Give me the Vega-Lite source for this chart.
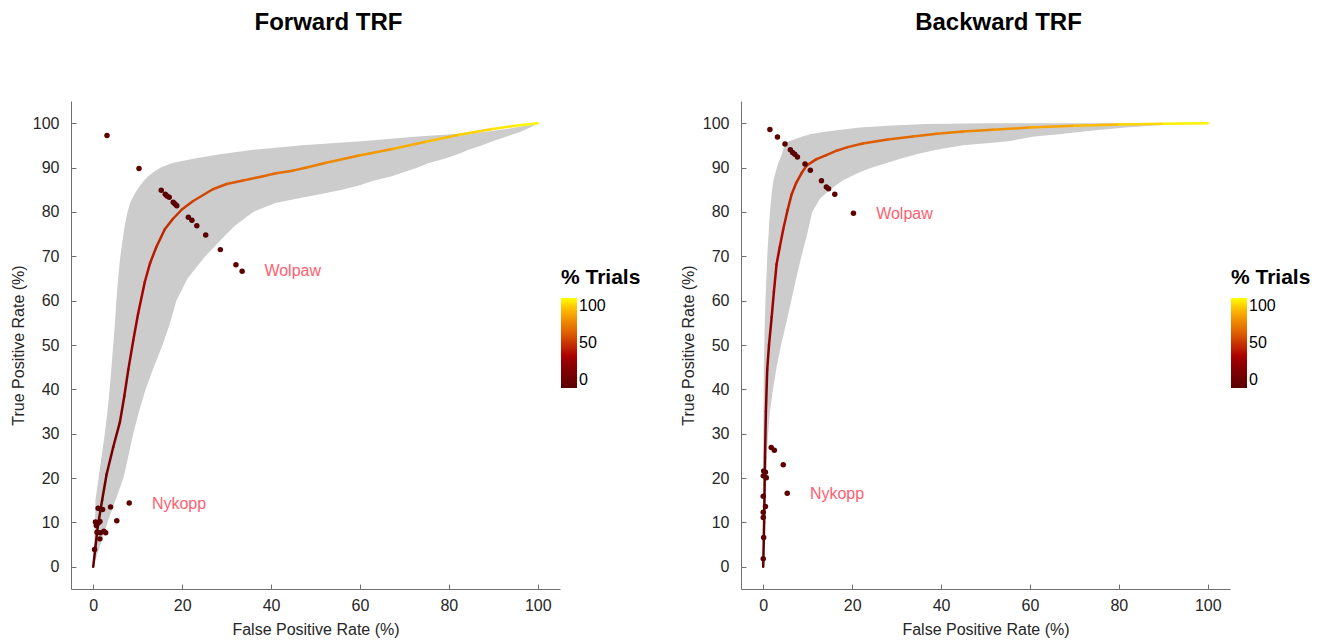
{
  "$schema": "https://vega.github.io/schema/vega-lite/v6.json",
  "padding": {"left": 10, "top": 11, "right": 5, "bottom": 5},
  "background": "white",
  "config": {
    "font": "Liberation Sans",
    "view": {"stroke": null},
    "axis": {
      "grid": false,
      "domainColor": "#707070",
      "tickColor": "#707070",
      "tickSize": -5,
      "labelColor": "#262626",
      "titleColor": "#262626",
      "labelFontSize": 16,
      "titleFontSize": 16,
      "titleFontWeight": "normal",
      "labelFont": "Liberation Sans",
      "titleFont": "Liberation Sans"
    },
    "axisY": {"labelPadding": 17, "titlePadding": 6},
    "axisX": {"labelPadding": 13, "titlePadding": 8},
    "title": {"fontSize": 24, "fontWeight": "bold", "color": "#000000", "offset": 66, "dx": 13, "font": "Liberation Sans"},
    "legend": {
      "orient": "none",
      "legendX": 490,
      "legendY": 166,
      "padding": 0,
      "titleFontSize": 21,
      "titleFontWeight": "bold",
      "titleColor": "#000000",
      "titlePadding": 10,
      "labelFontSize": 16,
      "labelColor": "#000000",
      "labelBaseline": "middle",
      "labelOffset": 6,
      "gradientLength": 90,
      "gradientThickness": 16,
      "gradientStrokeWidth": 0,
      "titleFont": "Liberation Sans",
      "labelFont": "Liberation Sans"
    }
  },
  "datasets": {
    "bandF": [
      {"y": 0, "xl": 0, "xr": 0}, {"y": 5, "xl": 0.2, "xr": 1.6}, {"y": 10, "xl": 0.4, "xr": 3.2},
      {"y": 15, "xl": 0.5, "xr": 5.0}, {"y": 20, "xl": 1.2, "xr": 6.8}, {"y": 25, "xl": 1.9, "xr": 7.9},
      {"y": 30, "xl": 2.6, "xr": 9.0}, {"y": 35, "xl": 3.2, "xr": 10.3}, {"y": 40, "xl": 3.7, "xr": 11.8},
      {"y": 45, "xl": 4.1, "xr": 13.6}, {"y": 50, "xl": 4.5, "xr": 15.6}, {"y": 55, "xl": 4.9, "xr": 17.3},
      {"y": 60, "xl": 5.2, "xr": 18.7}, {"y": 65, "xl": 5.6, "xr": 21.2}, {"y": 70, "xl": 6.1, "xr": 25.2},
      {"y": 75, "xl": 6.8, "xr": 30.0}, {"y": 77, "xl": 7.1, "xr": 32.0}, {"y": 80, "xl": 7.7, "xr": 36.0},
      {"y": 82, "xl": 8.3, "xr": 41}, {"y": 83, "xl": 8.8, "xr": 46}, {"y": 84, "xl": 9.3, "xr": 51},
      {"y": 85, "xl": 9.9, "xr": 56}, {"y": 86, "xl": 10.6, "xr": 60}, {"y": 87, "xl": 11.4, "xr": 63},
      {"y": 88, "xl": 12.3, "xr": 67}, {"y": 89, "xl": 13.6, "xr": 70}, {"y": 90, "xl": 15.2, "xr": 73},
      {"y": 91, "xl": 17.8, "xr": 75.5}, {"y": 92, "xl": 22.5, "xr": 79}, {"y": 93, "xl": 28.5, "xr": 82},
      {"y": 94, "xl": 36, "xr": 84.5}, {"y": 95, "xl": 47, "xr": 87.5}, {"y": 96, "xl": 61, "xr": 90},
      {"y": 97, "xl": 73, "xr": 93}, {"y": 98, "xl": 88, "xr": 96}, {"y": 99, "xl": 95, "xr": 98.3},
      {"y": 100, "xl": 100, "xr": 100}
    ],
    "curveF": [
      {"x": 0, "y": 0, "x2": 0.5, "y2": 4.5, "pct": 1.25},
      {"x": 0.5, "y": 4.5, "x2": 1.0, "y2": 8.9, "pct": 3.7},
      {"x": 1.0, "y": 8.9, "x2": 2.0, "y2": 15, "pct": 6.7},
      {"x": 2.0, "y": 15, "x2": 3.0, "y2": 20.8, "pct": 10.2},
      {"x": 3.0, "y": 20.8, "x2": 4.5, "y2": 27, "pct": 13.8},
      {"x": 4.5, "y": 27, "x2": 6.0, "y2": 32.6, "pct": 17.5},
      {"x": 6.0, "y": 32.6, "x2": 7.0, "y2": 38.5, "pct": 21},
      {"x": 7.0, "y": 38.5, "x2": 7.9, "y2": 44.5, "pct": 24.5},
      {"x": 7.9, "y": 44.5, "x2": 9.0, "y2": 51, "pct": 28.1},
      {"x": 9.0, "y": 51, "x2": 10.1, "y2": 57.1, "pct": 31.8},
      {"x": 10.1, "y": 57.1, "x2": 11.6, "y2": 64.2, "pct": 35.75},
      {"x": 11.6, "y": 64.2, "x2": 12.8, "y2": 68.5, "pct": 39.3},
      {"x": 12.8, "y": 68.5, "x2": 14.2, "y2": 72.1, "pct": 41.9},
      {"x": 14.2, "y": 72.1, "x2": 16.1, "y2": 76.1, "pct": 44.6},
      {"x": 16.1, "y": 76.1, "x2": 17.9, "y2": 78.4, "pct": 47.1},
      {"x": 17.9, "y": 78.4, "x2": 20, "y2": 80.6, "pct": 49.2},
      {"x": 20, "y": 80.6, "x2": 22.4, "y2": 82.4, "pct": 51.35},
      {"x": 22.4, "y": 82.4, "x2": 26.9, "y2": 85.1, "pct": 54.2},
      {"x": 26.9, "y": 85.1, "x2": 30, "y2": 86.3, "pct": 57.1},
      {"x": 30, "y": 86.3, "x2": 33.7, "y2": 87.1, "pct": 59.3},
      {"x": 33.7, "y": 87.1, "x2": 38, "y2": 88, "pct": 61.7},
      {"x": 38, "y": 88, "x2": 41.1, "y2": 88.7, "pct": 64},
      {"x": 41.1, "y": 88.7, "x2": 44.9, "y2": 89.3, "pct": 66},
      {"x": 44.9, "y": 89.3, "x2": 48, "y2": 90, "pct": 68},
      {"x": 48, "y": 90, "x2": 52.4, "y2": 91.1, "pct": 70.4},
      {"x": 52.4, "y": 91.1, "x2": 59.8, "y2": 92.7, "pct": 74},
      {"x": 59.8, "y": 92.7, "x2": 67.3, "y2": 94.2, "pct": 78.5},
      {"x": 67.3, "y": 94.2, "x2": 74.8, "y2": 95.8, "pct": 83},
      {"x": 74.8, "y": 95.8, "x2": 82.3, "y2": 97.4, "pct": 87.6},
      {"x": 82.3, "y": 97.4, "x2": 89.8, "y2": 98.7, "pct": 92},
      {"x": 89.8, "y": 98.7, "x2": 95, "y2": 99.4, "pct": 95.7},
      {"x": 95, "y": 99.4, "x2": 100, "y2": 100, "pct": 98.6}
    ],
    "ptsF": [
      {"x": 3.1, "y": 97.2}, {"x": 10.3, "y": 89.8}, {"x": 15.3, "y": 84.9}, {"x": 16.2, "y": 84.0},
      {"x": 16.6, "y": 83.6}, {"x": 17.1, "y": 83.3}, {"x": 18.0, "y": 82.2}, {"x": 18.4, "y": 81.8},
      {"x": 18.8, "y": 81.4}, {"x": 21.4, "y": 78.8}, {"x": 22.2, "y": 78.1}, {"x": 23.3, "y": 76.9},
      {"x": 25.3, "y": 74.8}, {"x": 28.6, "y": 71.5}, {"x": 32.1, "y": 68.1}, {"x": 33.5, "y": 66.6},
      {"x": 8.1, "y": 14.4}, {"x": 3.9, "y": 13.5}, {"x": 1.1, "y": 13.2}, {"x": 1.5, "y": 13.1},
      {"x": 2.1, "y": 12.9}, {"x": 5.3, "y": 10.4}, {"x": 0.5, "y": 10.1}, {"x": 1.1, "y": 9.9},
      {"x": 1.5, "y": 10.2}, {"x": 0.7, "y": 9.3}, {"x": 0.85, "y": 7.8}, {"x": 1.6, "y": 7.7},
      {"x": 2.4, "y": 8.0}, {"x": 2.8, "y": 7.7}, {"x": 1.5, "y": 6.3}, {"x": 0.3, "y": 3.9}
    ],
    "labF": [
      {"x": 38.5, "y": 66.6, "label": "Wolpaw"},
      {"x": 13.2, "y": 14.2, "label": "Nykopp"}
    ],
    "bandB": [
      {"y": 0, "xl": 0, "xr": 0}, {"y": 5, "xl": 0, "xr": 0.3}, {"y": 10, "xl": 0, "xr": 0.4},
      {"y": 15, "xl": 0, "xr": 0.5}, {"y": 20, "xl": 0, "xr": 0.6}, {"y": 25, "xl": 0, "xr": 0.8},
      {"y": 30, "xl": 0, "xr": 1.1}, {"y": 35, "xl": 0.05, "xr": 1.5}, {"y": 40, "xl": 0.1, "xr": 2.2},
      {"y": 45, "xl": 0.15, "xr": 3.0}, {"y": 50, "xl": 0.25, "xr": 4.0}, {"y": 55, "xl": 0.35, "xr": 5.2},
      {"y": 60, "xl": 0.5, "xr": 6.3}, {"y": 65, "xl": 0.7, "xr": 7.4}, {"y": 70, "xl": 0.9, "xr": 8.6},
      {"y": 75, "xl": 1.2, "xr": 9.9}, {"y": 80, "xl": 1.5, "xr": 11.0}, {"y": 83, "xl": 1.8, "xr": 12.8},
      {"y": 85, "xl": 2.0, "xr": 15.0}, {"y": 87, "xl": 2.3, "xr": 17.8}, {"y": 88, "xl": 2.5, "xr": 19.7},
      {"y": 89, "xl": 2.8, "xr": 21.8}, {"y": 90, "xl": 3.1, "xr": 24.5}, {"y": 91, "xl": 3.4, "xr": 27.8},
      {"y": 92, "xl": 3.8, "xr": 30.8}, {"y": 93, "xl": 4.2, "xr": 34.5}, {"y": 94, "xl": 4.5, "xr": 39},
      {"y": 95, "xl": 4.7, "xr": 45}, {"y": 95.6, "xl": 4.9, "xr": 51.6}, {"y": 96, "xl": 6.0, "xr": 55.5},
      {"y": 97, "xl": 8.8, "xr": 61}, {"y": 97.5, "xl": 10.5, "xr": 66.6}, {"y": 98, "xl": 13.5, "xr": 71},
      {"y": 98.5, "xl": 17.5, "xr": 76}, {"y": 99, "xl": 21.7, "xr": 81.5}, {"y": 99.5, "xl": 29, "xr": 88},
      {"y": 99.8, "xl": 36.7, "xr": 94}, {"y": 100, "xl": 51, "xr": 100}
    ],
    "curveB": [
      {"x": 0, "y": 0, "x2": 0.2, "y2": 10, "pct": 2.55},
      {"x": 0.2, "y": 10, "x2": 0.4, "y2": 24.7, "pct": 8.8},
      {"x": 0.4, "y": 24.7, "x2": 0.6, "y2": 35, "pct": 15.2},
      {"x": 0.6, "y": 35, "x2": 0.9, "y2": 44.5, "pct": 20.25},
      {"x": 0.9, "y": 44.5, "x2": 1.3, "y2": 50, "pct": 24.2},
      {"x": 1.3, "y": 50, "x2": 1.9, "y2": 56.3, "pct": 27.4},
      {"x": 1.9, "y": 56.3, "x2": 2.4, "y2": 62, "pct": 30.65},
      {"x": 2.4, "y": 62, "x2": 3.0, "y2": 68.2, "pct": 33.9},
      {"x": 3.0, "y": 68.2, "x2": 3.7, "y2": 72, "pct": 36.7},
      {"x": 3.7, "y": 72, "x2": 4.5, "y2": 76.1, "pct": 39.1},
      {"x": 4.5, "y": 76.1, "x2": 5.5, "y2": 80.5, "pct": 41.65},
      {"x": 5.5, "y": 80.5, "x2": 6.4, "y2": 84, "pct": 44.1},
      {"x": 6.4, "y": 84, "x2": 7.4, "y2": 86.5, "pct": 46.1},
      {"x": 7.4, "y": 86.5, "x2": 8.6, "y2": 88.7, "pct": 47.8},
      {"x": 8.6, "y": 88.7, "x2": 9.8, "y2": 90.5, "pct": 49.4},
      {"x": 9.8, "y": 90.5, "x2": 12, "y2": 91.9, "pct": 51.05},
      {"x": 12, "y": 91.9, "x2": 14.2, "y2": 92.8, "pct": 52.7},
      {"x": 14.2, "y": 92.8, "x2": 16.5, "y2": 93.8, "pct": 54.3},
      {"x": 16.5, "y": 93.8, "x2": 19, "y2": 94.6, "pct": 56},
      {"x": 19, "y": 94.6, "x2": 22.4, "y2": 95.4, "pct": 57.85},
      {"x": 22.4, "y": 95.4, "x2": 28, "y2": 96.3, "pct": 60.5},
      {"x": 28, "y": 96.3, "x2": 33.7, "y2": 97, "pct": 63.75},
      {"x": 33.7, "y": 97, "x2": 39, "y2": 97.6, "pct": 66.8},
      {"x": 39, "y": 97.6, "x2": 44.9, "y2": 98.1, "pct": 69.9},
      {"x": 44.9, "y": 98.1, "x2": 51.6, "y2": 98.5, "pct": 73.3},
      {"x": 51.6, "y": 98.5, "x2": 59.8, "y2": 99.0, "pct": 77.2},
      {"x": 59.8, "y": 99.0, "x2": 70, "y2": 99.4, "pct": 82.05},
      {"x": 70, "y": 99.4, "x2": 80, "y2": 99.7, "pct": 87.3},
      {"x": 80, "y": 99.7, "x2": 90, "y2": 99.9, "pct": 92.4},
      {"x": 90, "y": 99.9, "x2": 100, "y2": 100, "pct": 97.5}
    ],
    "ptsB": [
      {"x": 1.5, "y": 98.6}, {"x": 3.2, "y": 96.9}, {"x": 4.9, "y": 95.3}, {"x": 6.1, "y": 94.0},
      {"x": 6.6, "y": 93.4}, {"x": 7.1, "y": 93.0}, {"x": 7.7, "y": 92.4}, {"x": 9.4, "y": 90.8},
      {"x": 10.6, "y": 89.4}, {"x": 13.1, "y": 87.0}, {"x": 14.2, "y": 85.6}, {"x": 14.7, "y": 85.2},
      {"x": 16.1, "y": 84.0}, {"x": 20.3, "y": 79.7}, {"x": 1.8, "y": 26.9}, {"x": 2.5, "y": 26.3},
      {"x": 4.5, "y": 23.0}, {"x": 0.1, "y": 21.6}, {"x": 0.5, "y": 21.3}, {"x": 0.0, "y": 20.5},
      {"x": 0.7, "y": 20.1}, {"x": 5.4, "y": 16.6}, {"x": 0.0, "y": 15.9}, {"x": 0.5, "y": 13.6},
      {"x": 0.0, "y": 12.3}, {"x": 0.0, "y": 11.1}, {"x": 0.1, "y": 6.6}, {"x": 0.0, "y": 1.8}
    ],
    "labB": [
      {"x": 25.4, "y": 79.6, "label": "Wolpaw"},
      {"x": 10.5, "y": 16.4, "label": "Nykopp"}
    ]
  },
  "bounds": "flush",
  "spacing": 181,
  "resolve": {"scale": {"color": "independent"}, "legend": {"color": "independent"}},
  "hconcat": [
    {
      "width": 489,
      "height": 488,
      "title": {"text": "Forward TRF"},
      "layer": [
        {
          "data": {"name": "bandF"},
          "mark": {"type": "area", "orient": "horizontal", "color": "#cccccc", "opacity": 1},
          "encoding": {
            "y": {"field": "y", "type": "quantitative", "scale": {"domain": [-5, 105], "nice": false, "zero": false}, "axis": {"values": [0, 10, 20, 30, 40, 50, 60, 70, 80, 90, 100]}, "title": "True Positive Rate (%)"},
            "x": {"field": "xl", "type": "quantitative", "scale": {"domain": [-5, 105], "nice": false, "zero": false}, "axis": {"values": [0, 20, 40, 60, 80, 100]}, "title": "False Positive Rate (%)"},
            "x2": {"field": "xr"}
          }
        },
        {
          "data": {"name": "curveF"},
          "mark": {"type": "rule", "strokeWidth": 2.5, "strokeCap": "round"},
          "encoding": {
            "x": {"field": "x", "type": "quantitative", "title": "False Positive Rate (%)"},
            "y": {"field": "y", "type": "quantitative", "title": "True Positive Rate (%)"},
            "x2": {"field": "x2"},
            "y2": {"field": "y2"},
            "color": {
              "field": "pct", "type": "quantitative", "title": "% Trials",
              "scale": {"domain": [0, 25, 37.5, 50, 62.5, 75, 87.5, 100], "range": ["#5a0000", "#8c0000", "#b00000", "#c83400", "#e06400", "#f08c00", "#fcbc00", "#ffff00"]},
              "legend": {"values": [0, 50, 100]}
            }
          }
        },
        {
          "data": {"name": "ptsF"},
          "mark": {"type": "circle", "size": 30, "color": "#5c0000", "opacity": 1},
          "encoding": {
            "x": {"field": "x", "type": "quantitative", "title": "False Positive Rate (%)"},
            "y": {"field": "y", "type": "quantitative", "title": "True Positive Rate (%)"}
          }
        },
        {
          "data": {"name": "labF"},
          "mark": {"type": "text", "align": "left", "baseline": "middle", "fontSize": 16, "color": "#ff6070"},
          "encoding": {
            "x": {"field": "x", "type": "quantitative", "title": "False Positive Rate (%)"},
            "y": {"field": "y", "type": "quantitative", "title": "True Positive Rate (%)"},
            "text": {"field": "label"}
          }
        }
      ]
    },
    {
      "width": 489,
      "height": 488,
      "title": {"text": "Backward TRF"},
      "layer": [
        {
          "data": {"name": "bandB"},
          "mark": {"type": "area", "orient": "horizontal", "color": "#cccccc", "opacity": 1},
          "encoding": {
            "y": {"field": "y", "type": "quantitative", "scale": {"domain": [-5, 105], "nice": false, "zero": false}, "axis": {"values": [0, 10, 20, 30, 40, 50, 60, 70, 80, 90, 100]}, "title": "True Positive Rate (%)"},
            "x": {"field": "xl", "type": "quantitative", "scale": {"domain": [-5, 105], "nice": false, "zero": false}, "axis": {"values": [0, 20, 40, 60, 80, 100]}, "title": "False Positive Rate (%)"},
            "x2": {"field": "xr"}
          }
        },
        {
          "data": {"name": "curveB"},
          "mark": {"type": "rule", "strokeWidth": 2.5, "strokeCap": "round"},
          "encoding": {
            "x": {"field": "x", "type": "quantitative", "title": "False Positive Rate (%)"},
            "y": {"field": "y", "type": "quantitative", "title": "True Positive Rate (%)"},
            "x2": {"field": "x2"},
            "y2": {"field": "y2"},
            "color": {
              "field": "pct", "type": "quantitative", "title": "% Trials",
              "scale": {"domain": [0, 25, 37.5, 50, 62.5, 75, 87.5, 100], "range": ["#5a0000", "#8c0000", "#b00000", "#c83400", "#e06400", "#f08c00", "#fcbc00", "#ffff00"]},
              "legend": {"values": [0, 50, 100]}
            }
          }
        },
        {
          "data": {"name": "ptsB"},
          "mark": {"type": "circle", "size": 30, "color": "#5c0000", "opacity": 1},
          "encoding": {
            "x": {"field": "x", "type": "quantitative", "title": "False Positive Rate (%)"},
            "y": {"field": "y", "type": "quantitative", "title": "True Positive Rate (%)"}
          }
        },
        {
          "data": {"name": "labB"},
          "mark": {"type": "text", "align": "left", "baseline": "middle", "fontSize": 16, "color": "#ff6070"},
          "encoding": {
            "x": {"field": "x", "type": "quantitative", "title": "False Positive Rate (%)"},
            "y": {"field": "y", "type": "quantitative", "title": "True Positive Rate (%)"},
            "text": {"field": "label"}
          }
        }
      ]
    }
  ]
}
